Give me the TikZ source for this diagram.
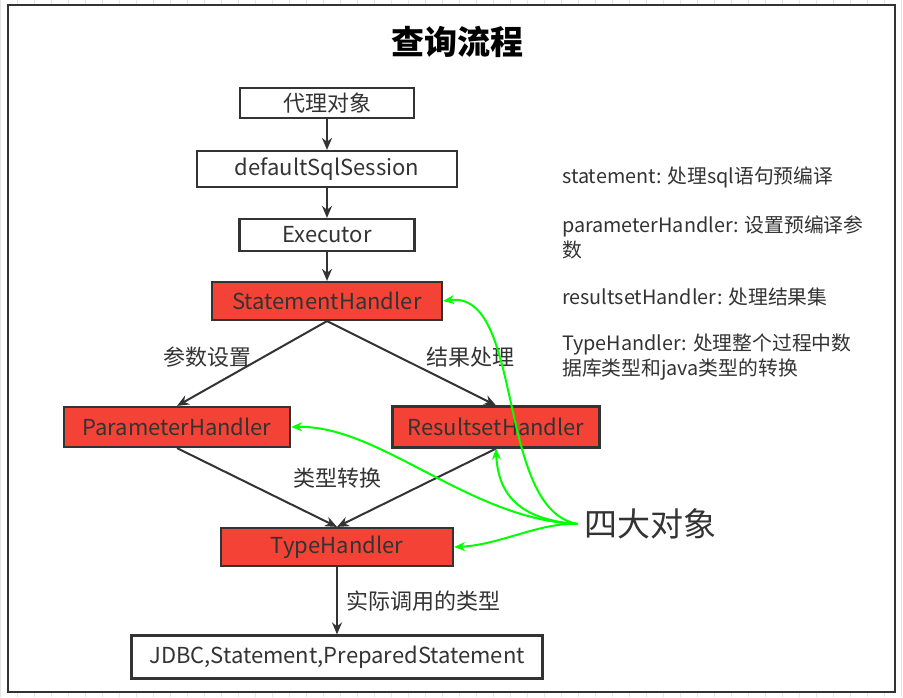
\documentclass[tikz,border=0pt]{standalone}
\usepackage{fontspec}
\setmainfont{Noto Sans CJK SC}
\usetikzlibrary{arrows.meta}
\definecolor{linec}{HTML}{333333}
\definecolor{boxred}{HTML}{F44336}
\definecolor{linkgreen}{HTML}{00FF00}
\definecolor{gridc}{HTML}{E4E4E4}
\tikzset{node distance=66pt, auto,
  box/.style={draw=linec, line width=2.2pt, text=linec, inner sep=0pt, font=\fontsize{22}{26}\selectfont},
  redbox/.style={box, fill=boxred},
  flow/.style={->, >={Stealth[length=12pt,width=10pt]}, draw=linec, line width=2pt},
  link/.style={->, >={Stealth[length=11pt,width=9pt]}, draw=linkgreen, line width=2pt},
  lbl/.style={text=linec, font=\fontsize{22}{26}\selectfont},
  note/.style={text=linec, anchor=west, align=left, inner sep=0pt, font=\fontsize{19.8}{25}\selectfont}}

\begin{document}
\begin{tikzpicture}[x=1pt, y=-1pt]
  \useasboundingbox (0,0) rectangle (903,697);
  \draw[gridc, step=17] (0,0) grid (903,697);
  \draw[linec, line width=2.5pt, fill=white] (8,5) rectangle (895,692);
  \node (T) at (457,42) {\fontsize{33}{37}\selectfont\bfseries 查询流程};

  \node[box, minimum width=174pt, minimum height=30pt] (P) at (327,103) {代理对象};
  \node[box, minimum width=260pt, minimum height=36pt] (D) [below of=P] {defaultSqlSession};
  \node[box, minimum width=175pt, minimum height=32pt] (E) [below of=D] {Executor};
  \node[redbox, minimum width=230pt, minimum height=38pt] (S) [below of=E] {StatementHandler};
  \node[redbox, minimum width=226pt, minimum height=40pt] (PH) at (177,427) {ParameterHandler};
  \node[redbox, minimum width=207pt, minimum height=41pt] (RH) at (496,427) {ResultsetHandler};
  \node[redbox, minimum width=232pt, minimum height=38pt] (TH) at (337,547) {TypeHandler};
  \node[box, node distance=110pt, minimum width=411pt, minimum height=43pt] (J) [below of=TH] {JDBC,Statement,PreparedStatement};

  \draw[flow] (P) -- (D);
  \draw[flow] (D) -- (E);
  \draw[flow] (E) -- (S);
  \draw[flow] (S.south) -- (PH.north);
  \draw[flow] (S.south) -- (RH.north);
  \draw[flow] (PH.south) -- (TH.north);
  \draw[flow] (RH.south) -- (TH.north);
  \draw[flow] (TH) to node[lbl, xshift=5pt] {实际调用的类型} (J);

  \node[lbl] (L1) at (207,357) {参数设置};
  \node[lbl] (L2) at (470,357) {结果处理};
  \node[lbl] (L3) at (337,478) {类型转换};

  \node[note] (N1) at (562,177) {statement: 处理sql语句预编译};
  \node[note] (N2) at (562,237.5) {parameterHandler: 设置预编译参\\数};
  \node[note] (N3) at (562,297) {resultsetHandler: 处理结果集};
  \node[note] (N4) at (562,357.5) {TypeHandler: 处理整个过程中数\\据库类型和java类型的转换};

  \node[text=linec, inner sep=0pt, font=\fontsize{33}{37}\selectfont] (F) at (650,524) {四大对象};
  \coordinate (src) at ([xshift=-6pt]F.west);

  \draw[link] (src) .. controls (495,510) and (525,290) .. (S.east);
  \draw[link] (src) .. controls (520,520) and (498,495) .. (RH.south);
  \draw[link] (src) .. controls (470,520) and (380,425) .. (PH.east);
  \draw[link] (src) .. controls (540,522) and (500,545) .. (TH.east);
\end{tikzpicture}
\end{document}
